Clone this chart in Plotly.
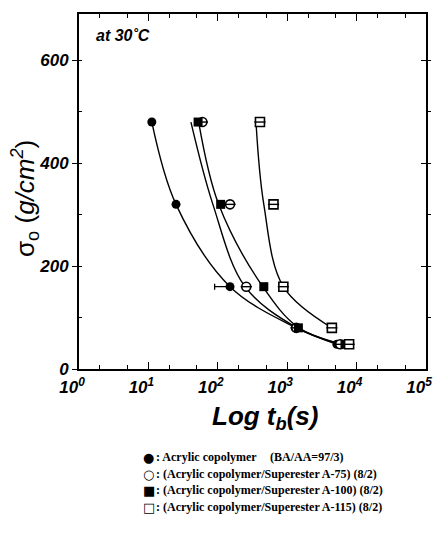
import plotly.graph_objects as go

# ---- data ----
sigma = [480, 320, 160, 80, 48]                 # g/cm^2
t_acryl = [11.2, 25, 150, 1300, 5200]           # s, Acrylic copolymer
t_a75 = [60, 150, 257, 1350, 5800]              # s, /Superester A-75
t_a100 = [52, 110, 460, 1450, 6800]             # s, /Superester A-100
t_a115 = [405, 635, 880, 4400, 7800]            # s, /Superester A-115
err_minus_acryl = [0, 0, 60, 0, 0]              # left error arm

# fitted curves drawn in the reference
curve_sigma = [480, 320, 160, 81, 48]
curve_acryl = [11.2, 25, 150, 1300, 5200]
curve_a75 = [41, 85, 247, 1350, 5800]
curve_a100 = [53, 103, 445, 1440, 6300]
curve_a115_sigma = [480, 320, 160, 80]
curve_a115 = [355, 460, 880, 4400]

x_tickvals = [1, 10, 100, 1000, 10000, 100000]
x_ticktext = ["10<sup>0</sup>", "10<sup>1</sup>", "10<sup>2</sup>", "10<sup>3</sup>",
              "10<sup>4</sup>", "10<sup>5</sup>"]
y_tickvals = [0, 200, 400, 600]

legend_rows = [
    ("●", ": Acrylic copolymer"),
    ("○", ": (Acrylic copolymer/Superester A-75) (8/2)"),
    ("■", ": (Acrylic copolymer/Superester A-100) (8/2)"),
    ("□", ": (Acrylic copolymer/Superester A-115) (8/2)"),
]
legend_extra = "(BA/AA=97/3)"

fig = go.Figure()

for tx, sy in [(curve_acryl, curve_sigma), (curve_a75, curve_sigma),
               (curve_a100, curve_sigma), (curve_a115, curve_a115_sigma)]:
    fig.add_trace(go.Scatter(x=tx, y=sy, mode="lines",
                             line=dict(color="black", width=1.4, shape="spline", smoothing=1.0),
                             hoverinfo="skip", showlegend=False))

fig.add_trace(go.Scatter(x=t_acryl, y=sigma, mode="markers",
                         marker=dict(symbol="circle", size=9, color="black"),
                         error_x=dict(type="data", symmetric=False, array=[0]*5,
                                      arrayminus=err_minus_acryl, color="black",
                                      thickness=1.3, width=3),
                         showlegend=False))
fig.add_trace(go.Scatter(x=t_a75, y=sigma, mode="markers",
                         marker=dict(symbol="circle", size=9, color="white",
                                     line=dict(color="black", width=1.6)),
                         showlegend=False))
fig.add_trace(go.Scatter(x=t_a75, y=sigma, mode="markers",
                         marker=dict(symbol="line-ew", size=8,
                                     line=dict(color="black", width=1.4)),
                         showlegend=False, hoverinfo="skip"))
fig.add_trace(go.Scatter(x=t_a100, y=sigma, mode="markers",
                         marker=dict(symbol="square", size=9, color="black"),
                         showlegend=False))
fig.add_trace(go.Scatter(x=t_a115, y=sigma, mode="markers",
                         marker=dict(symbol="square", size=9, color="white",
                                     line=dict(color="black", width=1.6)),
                         showlegend=False))
fig.add_trace(go.Scatter(x=t_a115, y=sigma, mode="markers",
                         marker=dict(symbol="line-ew", size=8,
                                     line=dict(color="black", width=1.4)),
                         showlegend=False, hoverinfo="skip"))

tickfont = dict(family="Liberation Sans", size=17, color="black", weight="bold", style="italic")

fig.update_layout(
    width=443, height=536,
    margin=dict(l=79, r=11, t=14, b=167),
    paper_bgcolor="white", plot_bgcolor="white",
    xaxis=dict(type="log", range=[0, 5], showline=True, linecolor="black", linewidth=2,
               mirror="ticks", ticks="inside", ticklen=7, tickwidth=1.3, tickcolor="black",
               tickvals=x_tickvals, ticktext=x_ticktext, tickfont=tickfont,
               ticklabelshift=-7, ticklabeloverflow="allow", ticklabelstandoff=2,
               showgrid=False, zeroline=False,
               minor=dict(ticks="inside", ticklen=4, tickwidth=1, tickcolor="black",
                          showgrid=False)),
    yaxis=dict(range=[0, 690], showline=True, linecolor="black", linewidth=2,
               mirror=False, ticks="outside", ticklen=5, tickwidth=1.2, tickcolor="black",
               tickvals=y_tickvals, tickfont=tickfont, showgrid=False, zeroline=False,
               minor=dict(dtick=100, ticks="inside", ticklen=3, tickwidth=1,
                          tickcolor="black", showgrid=False)),
    yaxis2=dict(range=[0, 690], overlaying="y", side="right", showline=True,
                linecolor="black", linewidth=2, ticks="inside", ticklen=5,
                tickwidth=1.2, tickcolor="black", tickvals=y_tickvals,
                showticklabels=False, showgrid=False, zeroline=False,
                minor=dict(dtick=100, ticks="outside", ticklen=3, tickwidth=1,
                           tickcolor="black", showgrid=False)),
)

# invisible trace so the right-hand axis renders
fig.add_trace(go.Scatter(x=[1], y=[0], yaxis="y2", mode="markers",
                         marker=dict(size=1, color="rgba(0,0,0,0)"),
                         showlegend=False, hoverinfo="skip"))

def px_x(p):
    return (p - 79) / 353.0

def px_y(p):
    return (369 - p) / 355.0

ann = []
ann.append(dict(text="at 30˚C", x=px_x(94), y=px_y(35), xref="paper", yref="paper",
                xanchor="left", yanchor="middle", showarrow=False,
                font=dict(family="Liberation Sans", size=16, color="black",
                          weight="bold", style="italic")))
ann.append(dict(text="Log t<sub>b</sub>(s)", x=px_x(268), y=px_y(417), xref="paper",
                yref="paper", xanchor="center", yanchor="middle", showarrow=False,
                font=dict(family="Liberation Sans", size=26, color="black",
                          weight="bold", style="italic")))
ann.append(dict(text="σ<sub>o</sub> (<i>g/cm<sup>2</sup></i>)", x=px_x(24), y=px_y(198),
                xref="paper", yref="paper", xanchor="center", yanchor="middle",
                textangle=-90, showarrow=False,
                font=dict(family="Liberation Sans", size=26, color="black")))

row_y = [457, 474, 490, 507]
for (sym, txt), ry in zip(legend_rows, row_y):
    ann.append(dict(text=sym, x=px_x(142), y=px_y(ry), xref="paper", yref="paper",
                    xanchor="left", yanchor="middle", showarrow=False,
                    font=dict(family="DejaVu Sans", size=13, color="black")))
    ann.append(dict(text=txt, x=px_x(155), y=px_y(ry), xref="paper", yref="paper",
                    xanchor="left", yanchor="middle", showarrow=False,
                    font=dict(family="Liberation Serif", size=12, color="black",
                              weight="bold")))
ann.append(dict(text=legend_extra, x=px_x(271), y=px_y(row_y[0]), xref="paper",
                yref="paper", xanchor="left", yanchor="middle", showarrow=False,
                font=dict(family="Liberation Serif", size=12, color="black", weight="bold")))

fig.update_layout(annotations=ann)
fig.write_html("out.html")
